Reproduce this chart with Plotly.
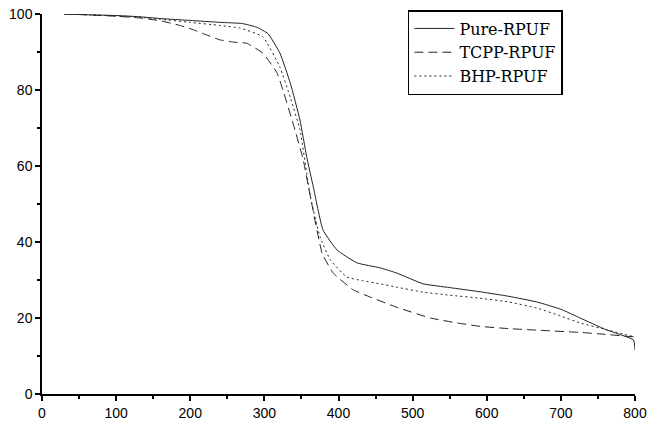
import plotly.graph_objects as go

pure_t = [30, 60, 100, 130, 160, 200, 240, 270, 290, 305, 321, 335, 348, 357, 366, 379, 398, 425, 456, 479, 514, 550, 591, 630, 668, 700, 726, 760, 798, 800]
pure_w = [100, 99.8, 99.6, 99.3, 98.8, 98.3, 97.8, 97.5, 96.5, 94.8, 89.7, 81.8, 72.1, 62.5, 54.5, 43.2, 37.9, 34.5, 33.2, 31.8, 29, 28, 26.9, 25.7, 24.2, 22.3, 20, 17, 14.2, 11.6]

tcpp_t = [30, 60, 100, 130, 160, 186, 205, 222, 240, 258, 276, 298, 317, 325, 339, 352, 364, 378, 393, 420, 443, 479, 524, 560, 591, 630, 668, 726, 760, 800]
tcpp_w = [100, 99.8, 99.4, 99, 98.2, 97, 95.8, 94.5, 93.2, 92.6, 92.3, 89.7, 84.5, 80, 71, 62, 50, 37, 31.8, 27.4, 25.5, 22.8, 20, 18.7, 17.8, 17.2, 16.8, 16.2, 15.7, 15]

bhp_t = [30, 60, 100, 130, 160, 200, 240, 267, 298, 321, 335, 348, 362, 375, 389, 411, 433, 456, 479, 514, 550, 591, 630, 668, 700, 726, 760, 800]
bhp_w = [100, 99.8, 99.5, 99.2, 98.6, 97.8, 97, 96.3, 94, 86, 78, 69.5, 52, 41.4, 35.3, 30.8, 29.8, 29, 28.1, 26.8, 26, 25.2, 24.2, 22.6, 20.5, 18.7, 17, 15]

names = ["Pure-RPUF", "TCPP-RPUF", "BHP-RPUF"]

fig = go.Figure()
fig.add_trace(go.Scatter(x=pure_t, y=pure_w, mode="lines", name=names[0],
                         line=dict(color="#222", width=1, shape="spline", smoothing=0.4)))
fig.add_trace(go.Scatter(x=tcpp_t, y=tcpp_w, mode="lines", name=names[1],
                         line=dict(color="#222", width=1, dash="9px,5px", shape="spline", smoothing=0.4)))
fig.add_trace(go.Scatter(x=bhp_t, y=bhp_w, mode="lines", name=names[2],
                         line=dict(color="#222", width=1, dash="2px,3px", shape="spline", smoothing=0.4)))

axis_common = dict(showline=True, linecolor="black", linewidth=1.5, ticks="outside",
                   ticklen=5, tickwidth=1.5, tickcolor="black", showgrid=False, zeroline=False,
                   tickfont=dict(family="Liberation Sans, Arial", size=14, color="black"),
                   mirror=False)
fig.update_xaxes(range=[0, 800], tick0=0, dtick=100,
                 minor=dict(ticks="outside", ticklen=3, tickwidth=1.5, tickcolor="black", dtick=50),
                 **axis_common)
fig.update_yaxes(range=[0, 100], tick0=0, dtick=20,
                 minor=dict(ticks="outside", ticklen=3, tickwidth=1.5, tickcolor="black", dtick=10),
                 **axis_common)

fig.update_layout(
    width=650, height=427,
    margin=dict(l=42, r=15, t=14, b=33, autoexpand=False),
    plot_bgcolor="white", paper_bgcolor="white",
    showlegend=True,
    legend=dict(x=0.617, y=1.0105, xanchor="left", yanchor="top",
                bordercolor="black", borderwidth=1.5, bgcolor="white",
                font=dict(family="DejaVu Serif, Liberation Serif", size=16, color="black"),
                tracegroupgap=0, itemwidth=40),
)

fig.write_html("out.html", config={"displayModeBar": False},
               post_script="document.body.style.margin='0';document.body.style.overflow='hidden';")
